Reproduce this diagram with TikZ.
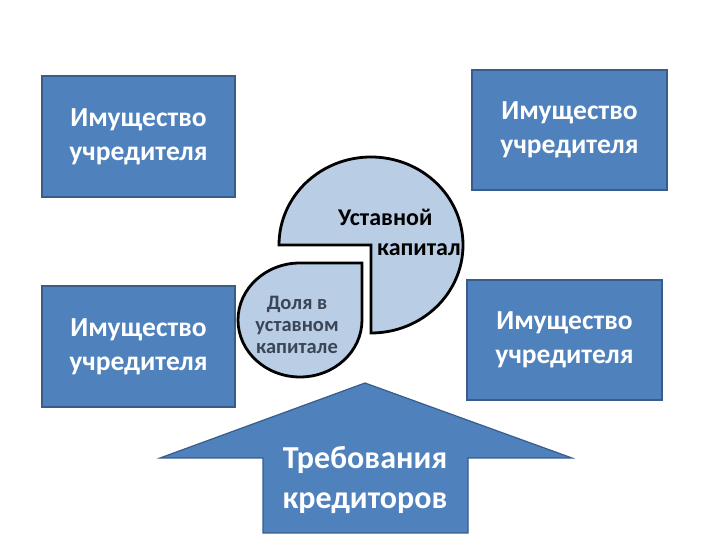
\documentclass[tikz,border=0pt]{standalone}
\usepackage{fontspec}
\setmainfont{Carlito}
\definecolor{boxblue}{HTML}{4F81BD}
\definecolor{boxedge}{HTML}{385D8A}
\definecolor{pieblue}{HTML}{B9CDE5}
\definecolor{smalltext}{HTML}{3A4656}
\begin{document}
\begin{tikzpicture}[x=1pt,y=1pt,
  box/.style={draw=boxedge,line width=1.2pt,fill=boxblue,text=white,
    font=\fontsize{27.5}{34}\selectfont\bfseries,align=center,inner sep=0pt},
  pie/.style={draw=black,line width=2.8pt,fill=pieblue,line join=miter}]
\useasboundingbox (0,0) rectangle (720,540);
\fill[white] (0,0) rectangle (720,540);
% boxes
\node[box,minimum width=193pt,minimum height=121pt] (tl) at (138.5,403.5) {Имущество\\учредителя};
\node[box,minimum width=195pt,minimum height=120pt] (tr) at (569.5,410) {Имущество\\учредителя};
\node[box,minimum width=193pt,minimum height=121pt] (bl) at (138.5,193.5) {Имущество\\учредителя};
\node[box,minimum width=195pt,minimum height=120pt] (br) at (564.5,200) {Имущество\\учредителя};
% big pie
\draw[pie] (371,295) -- (279,295) arc[start angle=180,end angle=-90,x radius=92,y radius=88] -- cycle;
\node[anchor=west,align=left,inner sep=0pt,font=\fontsize{24}{29.5}\selectfont\bfseries] (cap) at (338,307.5) {Уставной\\\hspace*{39pt}капитал};
% small share
\draw[pie] (362,277) -- (300,277) arc[start angle=90,end angle=360,x radius=62,y radius=57] -- cycle;
\node[align=center,inner sep=0pt,text=smalltext,font=\fontsize{20.5}{22}\selectfont\bfseries] (share) at (297,215) {Доля в\\уставном\\капитале};
% arrow
\draw[draw=boxedge,line width=1.2pt,fill=boxblue,line join=miter]
  (365,157) -- (572,82) -- (468,82) -- (468,7) -- (263,7) -- (263,82) -- (160,82) -- cycle;
\node[align=center,inner sep=0pt,text=white,font=\fontsize{32}{40}\selectfont\bfseries] (cred) at (365,60) {Требования\\кредиторов};
\end{tikzpicture}
\end{document}
